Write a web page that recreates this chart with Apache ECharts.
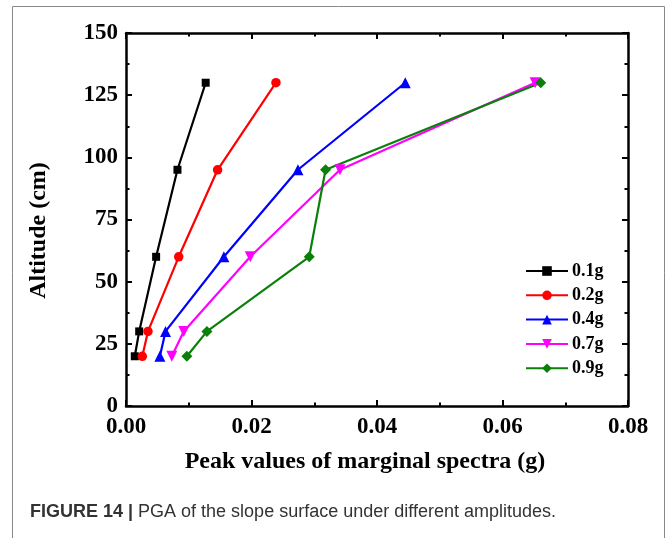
<!DOCTYPE html>
<html>
<head>
<meta charset="utf-8">
<script src="https://cdn.jsdelivr.net/npm/echarts@6/dist/echarts.min.js"></script>
<style>html,body{margin:0;padding:0;background:#fff}#c{width:670px;height:538px}</style>
</head>
<body>
<div id="c"></div>
<script>
var altitudes = [20, 30, 60, 95, 130];
var s01 = [0.0014, 0.0021, 0.0048, 0.0082, 0.0127];
var s02 = [0.0026, 0.0035, 0.0084, 0.0146, 0.0239];
var s04 = [0.0054, 0.0063, 0.0156, 0.0274, 0.0445];
var s07 = [0.0073, 0.0092, 0.0198, 0.0341, 0.0652];
var s09 = [0.0097, 0.0129, 0.0292, 0.0318, 0.0661];
var seriesNames = ['0.1g', '0.2g', '0.4g', '0.7g', '0.9g'];
var xTicks = [0, 0.02, 0.04, 0.06, 0.08];
var yTicks = [0, 25, 50, 75, 100, 125, 150];

var chart = echarts.init(document.getElementById('c'), null, {renderer: 'canvas'});
function pts(arr) { return arr.map(function (v, i) { return [v, altitudes[i]]; }); }
var serif = '"Liberation Serif", "Times New Roman", serif';
var axisLine = {show: true, onZero: false, lineStyle: {color: '#000', width: 2.5}};
var tickBase = {show: true, inside: true, length: 6, lineStyle: {color: '#000', width: 2}};
var minorBase = {show: true, splitNumber: 2, length: 3.5, lineStyle: {color: '#000', width: 2}};
var lbl = {color: '#000', fontFamily: serif, fontWeight: 'bold', fontSize: 23};

var styles = [
  {color: '#000000', symbol: 'rect', size: 8, rot: 0},
  {color: '#ff0000', symbol: 'circle', size: 9.5, rot: 0},
  {color: '#0000ff', symbol: 'triangle', size: 11, rot: 0},
  {color: '#ff00ff', symbol: 'triangle', size: 11, rot: 180},
  {color: '#0a800a', symbol: 'diamond', size: 11, rot: 0}
];
var dataSets = [s01, s02, s04, s07, s09];

chart.setOption({
  animation: false,
  grid: {left: 126, top: 33, right: 42, bottom: 132, containLabel: false},
  xAxis: [{
    type: 'value', min: 0, max: 0.08, interval: 0.02, position: 'bottom',
    axisLine: axisLine, axisTick: tickBase, minorTick: minorBase, splitLine: {show: false},
    axisLabel: Object.assign({margin: 10, formatter: function (v) { return v.toFixed(2); }}, lbl),
    name: 'Peak values of marginal spectra (g)', nameLocation: 'middle', nameGap: 44,
    nameTextStyle: {color: '#000', fontFamily: serif, fontWeight: 'bold', fontSize: 24, padding: [0, 24, 0, 0]}
  }, {
    type: 'value', min: 0, max: 0.08, interval: 0.02, position: 'top',
    axisLine: axisLine, axisTick: tickBase, minorTick: minorBase, splitLine: {show: false},
    axisLabel: {show: false}
  }],
  yAxis: [{
    type: 'value', min: 0, max: 150, interval: 25, position: 'left',
    axisLine: axisLine, axisTick: tickBase, minorTick: minorBase, splitLine: {show: false},
    axisLabel: Object.assign({margin: 8}, lbl),
    name: 'Altitude (cm)', nameLocation: 'middle', nameGap: 75, nameRotate: 90,
    nameTextStyle: {color: '#000', fontFamily: serif, fontWeight: 'bold', fontSize: 24, padding: [0, 22, 0, 0]}
  }, {
    type: 'value', min: 0, max: 150, interval: 25, position: 'right',
    axisLine: axisLine, axisTick: tickBase, minorTick: minorBase, splitLine: {show: false},
    axisLabel: {show: false}
  }],
  legend: {
    orient: 'vertical', left: 525, top: 262, padding: 0, itemWidth: 42, itemHeight: 12, itemGap: 6.3,
    data: seriesNames,
    textStyle: {color: '#000', fontFamily: serif, fontWeight: 'bold', fontSize: 18, lineHeight: 18, padding: [0, 0, 0, -1]}
  },
  series: dataSets.map(function (d, i) {
    var st = styles[i];
    return {
      name: seriesNames[i], type: 'line', data: pts(d),
      symbol: st.symbol, symbolSize: st.size, symbolRotate: st.rot, showAllSymbol: true,
      itemStyle: {color: st.color}, lineStyle: {color: st.color, width: 2.2}
    };
  }),
  graphic: [
    {type: 'rect', shape: {x: 12.5, y: 6.5, width: 652, height: 540}, style: {fill: 'none', stroke: '#888', lineWidth: 1}, silent: true},
    {type: 'text', left: 30, top: 503, style: {
      text: '{b|FIGURE 14 | }{n|PGA of the slope surface under different amplitudes.}',
      rich: {
        b: {fontFamily: '"Liberation Sans", Arial, sans-serif', fontWeight: 'bold', fontSize: 18, fill: '#333'},
        n: {fontFamily: '"Liberation Sans", Arial, sans-serif', fontSize: 18, fill: '#333'}
      }
    }}
  ]
});
</script>
</body>
</html>
